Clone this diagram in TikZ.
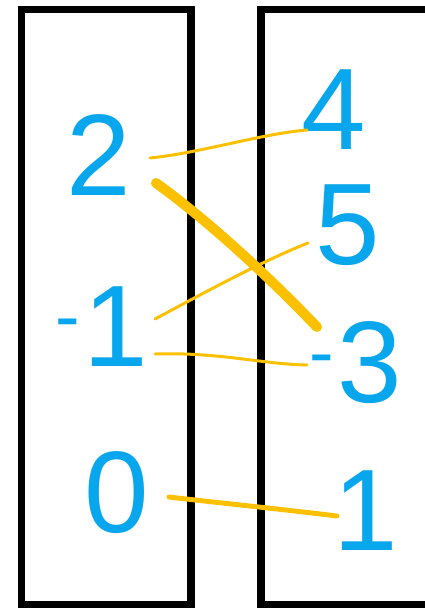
\documentclass[tikz,border=0pt]{standalone}
\usepackage{fontspec}
\setmainfont{Liberation Sans}
\definecolor{numblue}{HTML}{08A6EC}
\definecolor{mapyellow}{HTML}{FBC100}
\newcommand{\negsign}{\raisebox{14pt}{\fontsize{42}{42}\selectfont -}\hspace{2pt}}
\begin{document}
\begin{tikzpicture}[x=0.02cm,y=-0.02cm,
  setbox/.style={draw=black,line width=4.2pt},
  num/.style={inner sep=0pt,text=numblue,font=\fontsize{66}{66}\selectfont},
  mapline/.style={draw=mapyellow,line width=1.7pt,line cap=round},
  thickmap/.style={draw=mapyellow,line width=5.7pt,line cap=round},
  midmap/.style={draw=mapyellow,line width=2.8pt,line cap=round}]
\useasboundingbox (0,0) rectangle (425,608);
\clip (0,0) rectangle (425,608);
% sets
\draw[setbox] (21.5,9.5) rectangle (191,605);
\draw[setbox] (261,9.5) rectangle (445,605);
% domain
\node[num,anchor=base] (a2) at (99,195) {2};
\node[num,anchor=base] (am1) at (102,366) {\negsign1};
\node[num,anchor=base] (a0) at (117,532) {0};
% codomain
\node[num,anchor=base] (b4) at (334,149) {4};
\node[num,anchor=base] (b5) at (348,264) {5};
\node[num,anchor=base] (bm3) at (356,402) {\negsign3};
\node[num,anchor=base] (b1) at (366,550) {1};
% connector ends
\coordinate (s24) at (150,158);
\coordinate (e24) at (307,130);
\coordinate (s2m3) at (156,183);
\coordinate (e2m3) at (317,327);
\coordinate (sm15) at (155,319);
\coordinate (em15) at (308,243);
\coordinate (sm1m3) at (155,354);
\coordinate (em1m3) at (307,365);
\coordinate (s01) at (169,497);
\coordinate (e01) at (337,516);
% mappings
\draw[mapline] (s24) .. controls (200,153) and (260,134) .. (e24);
\draw[thickmap] (s2m3) .. controls (210,222) and (270,278) .. (e2m3);
\draw[mapline] (sm15) .. controls (200,295) and (260,262) .. (em15);
\draw[mapline] (sm1m3) .. controls (220,352) and (260,364) .. (em1m3);
\draw[midmap] (s01) .. controls (220,503) and (280,509) .. (e01);
\end{tikzpicture}
\end{document}
